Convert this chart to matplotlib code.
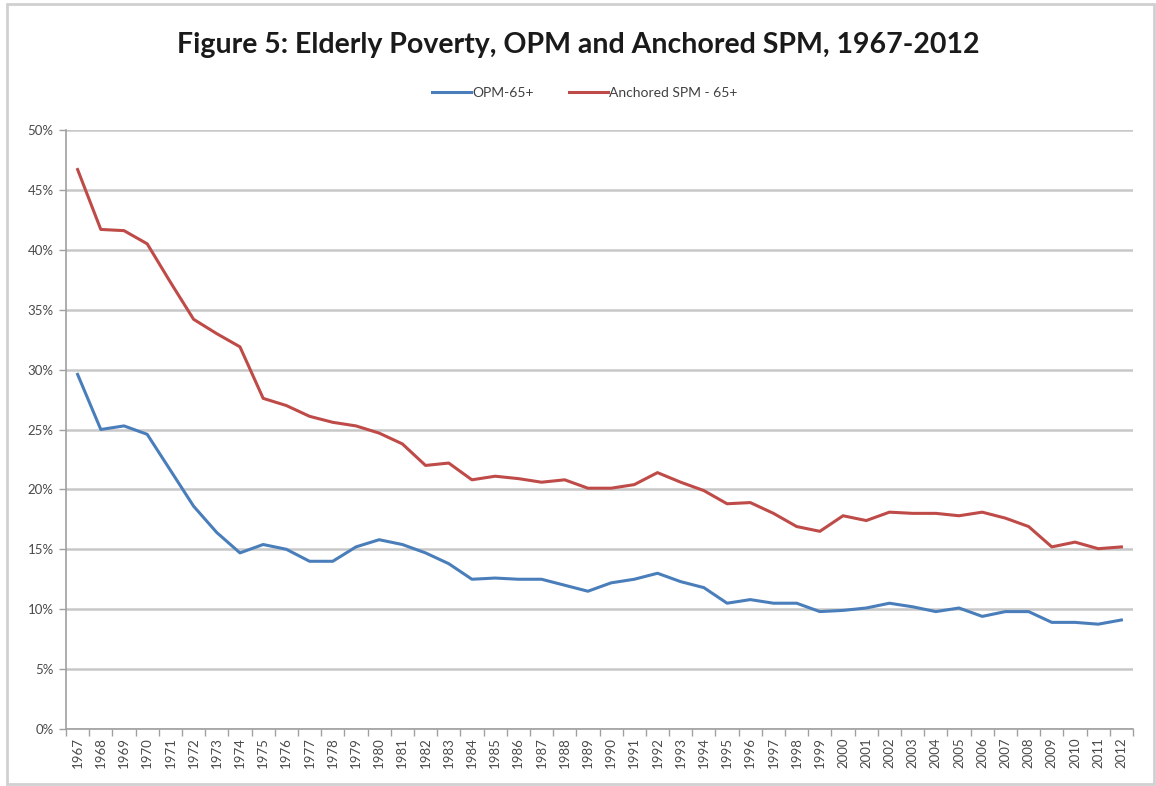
import matplotlib
matplotlib.use('Agg')
import matplotlib.pyplot as plt
from matplotlib.patches import Rectangle
from matplotlib.ticker import FixedLocator, PercentFormatter

years = list(range(1967, 2013))

opm_65 = [29.6, 25.0, 25.3, 24.6, 21.6, 18.6, 16.4, 14.7, 15.4, 15.0,
          14.0, 14.0, 15.2, 15.8, 15.4, 14.7, 13.8, 12.5, 12.6, 12.5,
          12.5, 12.0, 11.5, 12.2, 12.5, 13.0, 12.3, 11.8, 10.5, 10.8,
          10.5, 10.5, 9.8, 9.9, 10.1, 10.5, 10.2, 9.8, 10.1, 9.4,
          9.8, 9.8, 8.9, 8.9, 8.75, 9.1]

spm_65 = [46.7, 41.7, 41.6, 40.5, 37.3, 34.2, 33.0, 31.9, 27.6, 27.0,
          26.1, 25.6, 25.3, 24.7, 23.8, 22.0, 22.2, 20.8, 21.1, 20.9,
          20.6, 20.8, 20.1, 20.1, 20.4, 21.4, 20.6, 19.9, 18.8, 18.9,
          18.0, 16.9, 16.5, 17.8, 17.4, 18.1, 18.0, 18.0, 17.8, 18.1,
          17.6, 16.9, 15.2, 15.6, 15.05, 15.2]

y_ticks = [0, 5, 10, 15, 20, 25, 30, 35, 40, 45, 50]

plt.rcParams['font.family'] = ['Lato', 'DejaVu Sans']

fig = plt.figure(figsize=(11.56, 7.86), dpi=100)
ax = fig.add_axes([66/1156, 1 - 729/786, (1133 - 66)/1156, (729 - 130)/786])

# outer chart border
fig.patches.append(Rectangle((7/1156, 2/786), 1147/1156, 780/786,
                             transform=fig.transFigure, fill=False,
                             edgecolor='#d0d0d0', linewidth=2))

x = list(range(len(years)))
ax.plot(x, opm_65, color='#4a7ebb', linewidth=2.2, label='OPM-65+', zorder=3)
ax.plot(x, spm_65, color='#be4b48', linewidth=2.2, label='Anchored SPM - 65+', zorder=3)

ax.set_xlim(-0.5, len(years) - 0.5)
ax.set_ylim(0, 50)
ax.set_yticks(y_ticks)
ax.yaxis.set_major_formatter(PercentFormatter(decimals=0))
ax.grid(axis='y', color='#c8c8c8', linewidth=1.8)
ax.set_axisbelow(True)

ax.set_xticks(x)
ax.set_xticklabels([str(y) for y in years], rotation=90, fontsize=9.5,
                   color='#4a4a4a')
ax.xaxis.set_minor_locator(FixedLocator([i - 0.5 for i in range(len(years) + 1)]))
ax.tick_params(axis='x', which='major', length=0, pad=6)
ax.tick_params(axis='x', which='minor', length=5, color='#a0a0a0', width=1)
ax.tick_params(axis='y', length=5, color='#a0a0a0', width=1, labelsize=9.5,
               labelcolor='#4a4a4a', pad=4)

for side in ['top', 'right']:
    ax.spines[side].set_visible(False)
for side in ['left', 'bottom']:
    ax.spines[side].set_color('#a0a0a0')
    ax.spines[side].set_linewidth(1.2)

fig.text(0.5, 1 - 45/786, 'Figure 5: Elderly Poverty, OPM and Anchored SPM, 1967-2012',
         ha='center', va='center', fontsize=20.5, fontweight='bold', color='#1a1a1a')

ax.legend(loc='center', bbox_to_anchor=(585/1156, 1 - 93/786),
          bbox_transform=fig.transFigure, ncol=2, frameon=False,
          fontsize=10, handlelength=2.8, handletextpad=0.1, columnspacing=2.5,
          labelcolor='#404040')

plt.savefig('out.png', dpi=100)
